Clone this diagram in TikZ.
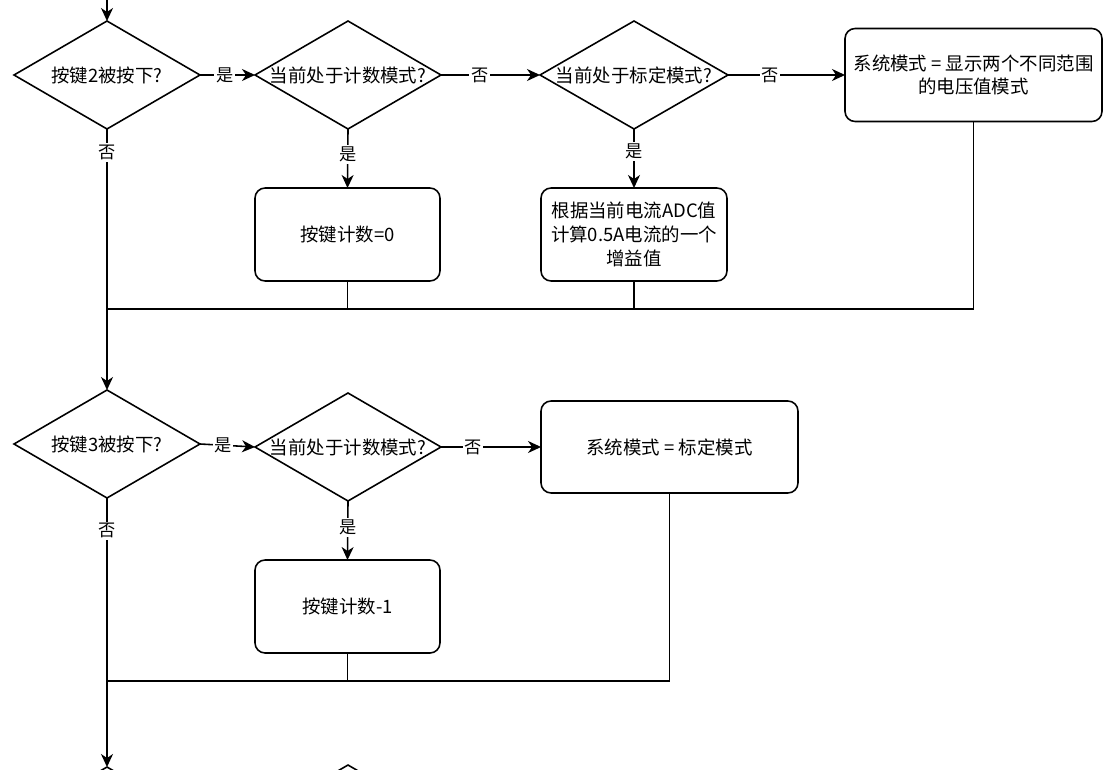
\documentclass[tikz,border=0pt]{standalone}
\usepackage{fontspec}
\newfontfamily\cjk{Noto Sans CJK SC}
\usetikzlibrary{shapes.geometric,arrows.meta}

\begin{document}
\begin{tikzpicture}[x=0.02cm,y=-0.02cm,line width=0.9pt,
	every node/.style={font=\cjk\fontsize{10.5}{13.5}\selectfont,outer sep=0pt},
	decision/.style={draw,diamond,minimum width=3.72cm,minimum height=2.16cm,inner sep=0pt},
	stepbox/.style={draw,rounded corners=0.2cm,align=center,inner sep=0pt,minimum height=1.86cm},
	edgelabel/.style={fill=white,inner sep=1pt,font=\cjk\fontsize{9.8}{12}\selectfont},
	arr/.style={-{Stealth[length=0.26cm,width=0.24cm,inset=0.08cm]}}]
	\useasboundingbox (0,0) rectangle (1118,770);
	\clip (0,0) rectangle (1118,770);
	\coordinate (start) at (107,0);
	\node[decision,label={center:按键2被按下?}] (d1) at (107,75) {};
	\node[decision,label={center:当前处于计数模式?}] (d2) at (348,75) {};
	\node[decision,minimum width=3.76cm,label={center:当前处于标定模式?}] (d3) at (634,75) {};
	\node[stepbox,minimum width=5.14cm] (b1) at (973.5,75) {系统模式 = 显示两个不同范围\\的电压值模式};
	\node[stepbox,minimum width=3.7cm] (b2) at (347.5,234.5) {按键计数=0};
	\node[stepbox,minimum width=3.72cm] (b3) at (634,234.5) {根据当前电流ADC值\\计算0.5A电流的一个\\增益值};
	\coordinate (m1) at (107,309);
	\node[decision,label={center:按键3被按下?}] (d4) at (107,444) {};
	\node[decision,label={center:当前处于计数模式?}] (d5) at (348,447) {};
	\node[stepbox,minimum width=5.14cm,minimum height=1.84cm] (b4) at (669.5,447) {系统模式 = 标定模式};
	\node[stepbox,minimum width=3.7cm] (b5) at (347.5,606.5) {按键计数-1};
	\coordinate (m2) at (107,681);
	\node[decision] (d6) at (107,821) {};
	\node[decision] (d7) at (348,819) {};
	\draw[arr] (start) -- (d1.north);
	\draw[arr] (d1.east) -- node[edgelabel,pos=0.45] {是} (d2.west);
	\draw[arr] (d2.east) -- node[edgelabel,pos=0.39] {否} (d3.west);
	\draw[arr] (d3.east) -- node[edgelabel,pos=0.36] {否} (b1.west);
	\draw[arr] (d2.south) -- node[edgelabel,pos=0.43] {是} (b2.north);
	\draw[arr] (d3.south) -- node[edgelabel,pos=0.38] {是} (b3.north);
	\draw (d1.south) -- node[edgelabel,pos=0.13] {否} (m1);
	\draw (b2.south) |- (m1);
	\draw (b3.south) |- (m1);
	\draw (b1.south) |- (m1);
	\draw[arr] (m1) -- (d4.north);
	\draw[arr] (d4.east) -- node[edgelabel,pos=0.42] {是} (d5.west);
	\draw[arr] (d5.east) -- node[edgelabel,pos=0.32] {否} (b4.west);
	\draw[arr] (d5.south) -- node[edgelabel,pos=0.45] {是} (b5.north);
	\draw (d4.south) -- node[edgelabel,pos=0.18] {否} (m2);
	\draw (b5.south) |- (m2);
	\draw (b4.south) |- (m2);
	\draw[arr] (m2) -- (d6.north);
\end{tikzpicture}
\end{document}
